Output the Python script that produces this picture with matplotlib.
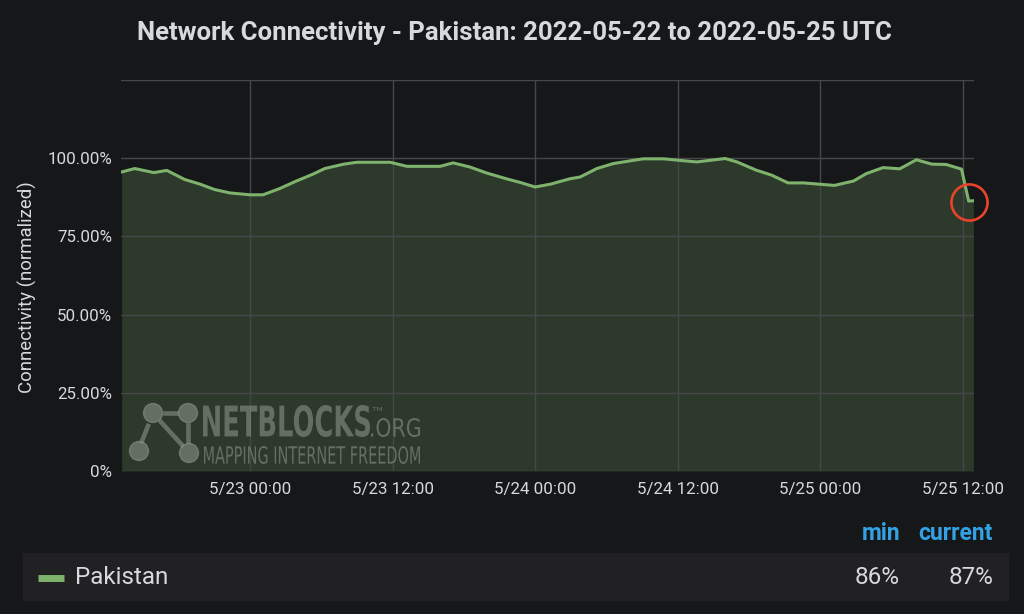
import numpy as np
import matplotlib.pyplot as plt
from matplotlib.patches import Rectangle, Circle, PathPatch
from matplotlib.textpath import TextPath
from matplotlib.font_manager import FontProperties
from matplotlib.transforms import Affine2D, IdentityTransform

# hours relative to 2022-05-23 00:00 UTC, connectivity in %
hours = [-10.8, -9.7, -8.1, -7.0, -5.5, -4.2, -3.0, -1.7, 0.0, 1.1, 2.5, 3.9,
         5.3, 6.3, 7.9, 9.0, 11.8, 13.2, 16.0, 17.1, 18.5, 19.9, 21.6, 22.7,
         24.0, 25.3, 26.9, 27.8, 29.2, 30.6, 33.1, 34.8, 37.6, 40.0, 41.0,
         42.6, 43.9, 45.3, 46.6, 49.2, 50.8, 51.9, 53.3, 54.7, 56.1, 57.4,
         58.6, 59.9, 60.5, 60.9]
pakistan = [95.6, 96.7, 95.4, 96.1, 93.2, 91.7, 90.0, 88.9, 88.3, 88.3, 90.3,
            92.7, 94.9, 96.7, 98.1, 98.7, 98.7, 97.4, 97.4, 98.5, 97.2, 95.3,
            93.4, 92.3, 90.8, 91.7, 93.4, 94.0, 96.7, 98.3, 99.8, 99.8, 98.8,
            99.9, 98.8, 96.2, 94.6, 92.1, 92.1, 91.3, 92.7, 95.1, 97.0, 96.6,
            99.5, 98.1, 98.0, 96.5, 86.3, 86.4]

x_ticks = [0, 12, 24, 36, 48, 60]
x_labels = ['5/23 00:00', '5/23 12:00', '5/24 00:00', '5/24 12:00',
            '5/25 00:00', '5/25 12:00']
y_ticks = [0, 25, 50, 75, 100, 125]
y_labels = ['0%', '25.00%', '50.00%', '75.00%', '100.00%', '']
stat_min = '86%'
stat_current = '87%'

bg = '#161719'
txt = '#d8d9da'
green = '#7eb26d'
W, H = 1024, 614

plt.rcParams['font.family'] = ['Roboto', 'DejaVu Sans']

fig = plt.figure(figsize=(10.24, 6.14), dpi=100, facecolor=bg)
ax = fig.add_axes([121 / W, 1 - 471 / H, (974 - 121) / W, (471 - 80) / H])
ax.set_facecolor(bg)

ax.fill_between(hours, 0, pakistan, color=green, alpha=0.22, lw=0)
ax.plot(hours, pakistan, color=green, lw=2.2)

# highlight the drop
ax.plot([60.5], [86.0], 'o', ms=26, mfc='none', mec='#e8442b', mew=1.9,
        clip_on=False)

ax.set_xlim(-10.86, 60.95)
ax.set_ylim(0, 125)
ax.set_xticks(x_ticks)
ax.set_xticklabels(x_labels)
ax.set_yticks(y_ticks)
ax.set_yticklabels(y_labels)
ax.grid(True, color='#464749', lw=1)
ax.tick_params(colors=txt, labelsize=12.2, length=0)
ax.tick_params(axis='y', pad=6.5)
ax.tick_params(axis='x', pad=8)
for s in ax.spines.values():
    s.set_visible(False)
ax.set_ylabel('Connectivity (normalized)', color=txt, fontsize=13.4)
ax.yaxis.set_label_coords(-0.098, 0.47)

# watermark, drawn in pixel coords (origin top-left converted)
wm = '#8c9389'
pix = IdentityTransform()


def px_text(s, x0, x1, top, bottom, weight='normal'):
    tp = TextPath((0, 0), s, size=10, prop=FontProperties(family='DejaVu Sans', weight=weight))
    bb = tp.get_extents()
    tr = (Affine2D().translate(-bb.x0, -bb.y0)
          .scale((x1 - x0) / bb.width, (bottom - top) / bb.height)
          .translate(x0, H - bottom))
    fig.patches.append(PathPatch(tr.transform_path(tp), color=wm, alpha=0.6, lw=0,
                                 transform=pix))


for cx, cy in [(153, 413), (188, 413), (139, 451), (189, 453)]:
    fig.patches.append(Circle((cx, H - cy), 9.5, color=wm, alpha=0.6, transform=pix))
for (x0, y0, x1, y1) in [(165, 413, 176, 413), (161, 422, 182, 445),
                         (148, 426, 142, 441), (188, 425, 188, 441)]:
    fig.add_artist(plt.Line2D([x0, x1], [H - y0, H - y1], color=wm, alpha=0.6,
                              lw=3.3, transform=pix))
px_text('NETBLOCKS', 203, 370, 405, 437, weight='bold')
px_text('.ORG', 371, 420, 418, 437)
px_text('TM', 372, 382, 407, 411)
px_text('MAPPING INTERNET FREEDOM', 204, 420, 446, 464)

fig.text(514 / W, 1 - 33 / H,
         'Network Connectivity - Pakistan: 2022-05-22 to 2022-05-25 UTC',
         color=txt, fontsize=18.5, fontweight='bold', ha='center', va='center')

# legend table
fig.patches.append(Rectangle((23, H - 600), 985, 47, color='#212124', transform=pix))
fig.add_artist(plt.Line2D([38, 64], [H - 578, H - 578], color=green, lw=5,
                          solid_capstyle='butt', transform=pix))
fig.text(75 / W, 1 - 577 / H, 'Pakistan', color=txt, fontsize=17.5, va='center')
fig.text(900 / W, 1 - 533 / H, 'min', color='#33a2e5', fontsize=16.5,
         fontweight='bold', ha='right', va='center')
fig.text(993 / W, 1 - 533 / H, 'current', color='#33a2e5', fontsize=16.5,
         fontweight='bold', ha='right', va='center')
fig.text(900 / W, 1 - 577 / H, stat_min, color=txt, fontsize=17.5,
         ha='right', va='center')
fig.text(993 / W, 1 - 577 / H, stat_current, color=txt, fontsize=17.5,
         ha='right', va='center')

fig.savefig('out.png', dpi=100, facecolor=bg)
